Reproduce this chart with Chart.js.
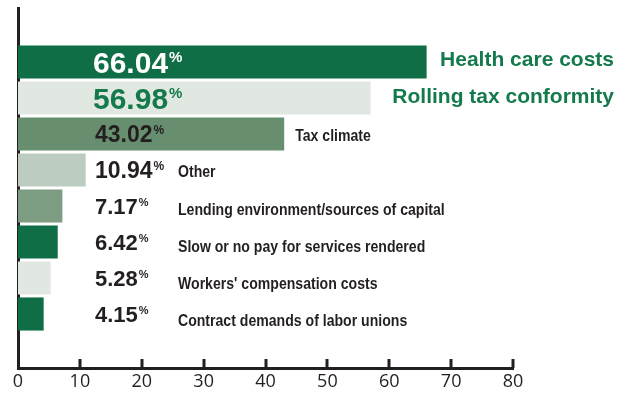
<!DOCTYPE html>
<html>
<head>
<meta charset="utf-8">
<script src="https://cdn.jsdelivr.net/npm/chart.js@4.4.0/dist/chart.umd.min.js"></script>
<style>
  html, body { margin: 0; padding: 0; background: #fff; }
  #wrap { width: 633px; height: 394px; position: relative; }
</style>
</head>
<body>
<div id="wrap"><canvas id="issuesChart"></canvas></div>
<script>
const categories = [
  'Health care costs',
  'Rolling tax conformity',
  'Tax climate',
  'Other',
  'Lending environment/sources of capital',
  'Slow or no pay for services rendered',
  "Workers' compensation costs",
  'Contract demands of labor unions'
];
const shares = [66.04, 56.98, 43.02, 10.94, 7.17, 6.42, 5.28, 4.15];
const xTicks = [0, 10, 20, 30, 40, 50, 60, 70, 80];

const barColors = ['#0f6e45', '#e1e8e2', '#678f6f', '#bdccc0', '#7c9d81', '#0f6e45', '#e1e8e2', '#0f6e45'];

const wideFont = '"Liberation Sans", Arial, sans-serif';

// per-row text styling: value label + category name
// squeeze < 1 narrows the name text horizontally
const rowStyles = [
  { valueColor: '#ffffff', valueSize: 30, nameColor: '#147a4c', nameSize: 21, squeeze: 1, place: 'right', shift: -2 },
  { valueColor: '#147a4c', valueSize: 30, nameColor: '#147a4c', nameSize: 21, squeeze: 1, place: 'right', shift: -1 },
  { valueColor: '#231f20', valueSize: 23, nameColor: '#231f20', nameSize: 16, squeeze: 0.88, place: 'end', shift: 3 },
  { valueColor: '#231f20', valueSize: 23, nameColor: '#231f20', nameSize: 16, squeeze: 0.88, place: 'col', shift: 3 },
  { valueColor: '#231f20', valueSize: 22, nameColor: '#231f20', nameSize: 16, squeeze: 0.88, place: 'col', shift: 5 },
  { valueColor: '#231f20', valueSize: 22, nameColor: '#231f20', nameSize: 16, squeeze: 0.88, place: 'col', shift: 6 },
  { valueColor: '#231f20', valueSize: 22, nameColor: '#231f20', nameSize: 16, squeeze: 0.88, place: 'col', shift: 7 },
  { valueColor: '#231f20', valueSize: 22, nameColor: '#231f20', nameSize: 16, squeeze: 0.88, place: 'col', shift: 8 }
];

// one empty slot above and below the bars
const rowLabels = [''].concat(categories, ['']);
const rowValues = [null].concat(shares, [null]);
const rowColors = ['#fff'].concat(barColors, ['#fff']);

const axisColor = '#231f20';

// percentage and category text next to each bar
const barText = {
  id: 'barText',
  afterDatasetsDraw(chart) {
    const ctx = chart.ctx;
    const area = chart.chartArea;
    const meta = chart.getDatasetMeta(0);
    ctx.save();
    shares.forEach((v, i) => {
      const bar = meta.data[i + 1];
      const st = rowStyles[i];
      const cy = bar.y;
      const num = v.toFixed(2);
      const vx = area.left + (i < 2 ? 75 : 77);
      const cap = st.valueSize * 0.72;
      ctx.fillStyle = st.valueColor;
      ctx.textAlign = 'left';
      ctx.textBaseline = 'alphabetic';
      ctx.font = 'bold ' + st.valueSize + 'px ' + wideFont;
      ctx.fillText(num, vx, cy + cap / 2);
      const w = ctx.measureText(num).width;
      const ps = Math.round(st.valueSize * 0.5);
      ctx.font = 'bold ' + ps + 'px ' + wideFont;
      ctx.fillText('%', vx + w + 1, cy - cap / 2 + ps * 0.72);

      ctx.font = 'bold ' + st.nameSize + 'px ' + wideFont;
      ctx.fillStyle = st.nameColor;
      ctx.textBaseline = 'middle';
      ctx.textAlign = 'left';
      const tw = ctx.measureText(categories[i]).width * st.squeeze;
      let nx;
      if (st.place === 'right') {
        nx = chart.width - 19 - tw;
      } else if (st.place === 'end') {
        nx = bar.x + 11;
      } else {
        nx = area.left + 160;
      }
      ctx.save();
      ctx.translate(nx, cy + st.shift);
      ctx.scale(st.squeeze, 1);
      ctx.fillText(categories[i], 0, 0);
      ctx.restore();
    });
    ctx.restore();
  }
};

// short tick marks pointing up from the x axis
const innerTicks = {
  id: 'innerTicks',
  afterDraw(chart) {
    const ctx = chart.ctx;
    const x = chart.scales.x;
    const base = chart.chartArea.bottom;
    ctx.save();
    ctx.strokeStyle = axisColor;
    ctx.lineWidth = 3;
    xTicks.slice(1).forEach(t => {
      const px = Math.round(x.getPixelForValue(t));
      ctx.beginPath();
      ctx.moveTo(px, base);
      ctx.lineTo(px, base - 9);
      ctx.stroke();
    });
    ctx.restore();
  }
};

new Chart(document.getElementById('issuesChart'), {
  type: 'bar',
  data: {
    labels: rowLabels,
    datasets: [{
      data: rowValues,
      backgroundColor: rowColors,
      borderWidth: 0,
      barPercentage: 0.92,
      categoryPercentage: 1.0
    }]
  },
  options: {
    indexAxis: 'y',
    responsive: true,
    maintainAspectRatio: false,
    animation: false,
    layout: { padding: { left: 18, right: 120, top: 8, bottom: 0 } },
    plugins: {
      legend: { display: false },
      tooltip: { enabled: false }
    },
    scales: {
      x: {
        min: 0,
        max: 80,
        afterBuildTicks(scale) {
          scale.ticks = xTicks.map(v => ({ value: v }));
        },
        afterFit(scale) {
          scale.height = 26;
        },
        grid: { display: false, drawTicks: false },
        border: { display: true, color: axisColor, width: 3 },
        ticks: {
          color: axisColor,
          padding: 5,
          maxRotation: 0,
          font: { family: '"Open Sans", sans-serif', size: 18, lineHeight: 1 }
        }
      },
      y: {
        grid: { display: false, drawTicks: false },
        border: { display: true, color: axisColor, width: 3 },
        ticks: { display: false }
      }
    }
  },
  plugins: [barText, innerTicks]
});
</script>
</body>
</html>
